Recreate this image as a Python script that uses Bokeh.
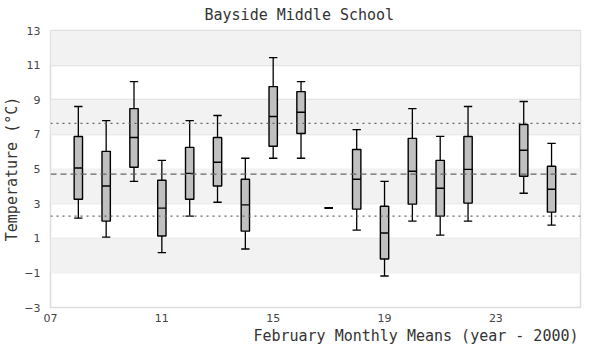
from bokeh.plotting import figure
from bokeh.models import Span, FixedTicker, Title, ColumnDataSource, BoxAnnotation
from bokeh.transform import dodge
from bokeh.embed import file_html
from bokeh.resources import INLINE

# ---- data ----
years  = [8, 9, 10, 11, 12, 13, 14, 15, 16, 17, 18, 19, 20, 21, 22, 24, 25]
lower  = [2.16, 1.07, 4.29, 0.17, 2.28, 3.08, 0.38, 5.62, 5.62, 2.75, 1.47, -1.18, 1.99, 1.18, 1.99, 3.60, 1.76]
q1     = [3.25, 1.99, 5.10, 1.13, 3.25, 4.02, 1.41, 6.31, 7.05, 2.75, 2.68, -0.20, 2.97, 2.28, 3.03, 4.58, 2.51]
median = [5.06, 4.02, 6.82, 2.74, 4.75, 5.39, 2.93, 8.03, 8.28, 2.75, 4.41, 1.30, 4.87, 3.89, 4.98, 6.08, 3.83]
q3     = [6.88, 6.02, 8.49, 4.35, 6.25, 6.82, 4.41, 9.76, 9.47, 2.75, 6.13, 2.85, 6.77, 5.50, 6.88, 7.57, 5.16]
upper  = [8.61, 7.80, 10.05, 5.50, 7.80, 8.09, 5.62, 11.43, 10.05, 2.75, 7.28, 4.29, 8.49, 6.88, 8.61, 8.90, 6.48]

overall_mean = 4.70
band_low = 2.28
band_high = 7.63

y_ticks = [-3, -1, 1, 3, 5, 7, 9, 11, 13]
x_ticks = [7, 11, 15, 19, 23]
x_tick_labels = {7: "07", 11: "11", 15: "15", 19: "19", 23: "23"}
shaded_bands = [(-1, 1), (3, 5), (7, 9), (11, 13)]

title_text = "Bayside Middle School"
x_title = "February Monthly Means (year - 2000)"
y_title = "Temperature (°C)"

MONO = "DejaVu Sans Mono"

src = ColumnDataSource(dict(years=years, lower=lower, q1=q1, median=median, q3=q3, upper=upper))

p = figure(width=584, height=344, x_range=(7, 26.04), y_range=(-3, 13),
           output_backend="svg", toolbar_location=None,
           min_border_left=40, min_border_right=4, min_border_top=30, min_border_bottom=30)

p.background_fill_color = "white"
p.border_fill_color = "white"
p.outline_line_color = "#dddddd"
p.outline_line_width = 1.5

# title
p.title.text = title_text
p.title.text_font = MONO
p.title.text_font_size = "15px"
p.title.text_font_style = "normal"
p.title.text_color = "#333333"
p.title.align = "left"
p.title.vertical_align = "top"
p.title.offset = 154
p.title.standoff = 10

# axes
p.xaxis.ticker = FixedTicker(ticks=x_ticks)
p.xaxis.major_label_overrides = x_tick_labels
p.yaxis.ticker = FixedTicker(ticks=y_ticks)
for ax in (p.xaxis, p.yaxis):
    ax.axis_line_color = None
    ax.major_tick_line_color = None
    ax.minor_tick_line_color = None
    ax.major_tick_out = 0
    ax.major_tick_in = 0
    ax.minor_tick_out = 0
    ax.minor_tick_in = 0
    ax.major_label_text_font = "DejaVu Sans"
    ax.major_label_text_font_size = "11px"
    ax.major_label_text_color = "#444444"
p.yaxis.major_label_standoff = 10
p.xaxis.major_label_standoff = 6
p.yaxis.axis_label = y_title
p.yaxis.axis_label_text_font = MONO
p.yaxis.axis_label_text_font_size = "15px"
p.yaxis.axis_label_text_font_style = "normal"
p.yaxis.axis_label_text_color = "#333333"
p.yaxis.axis_label_standoff = 0

xt = Title(text=x_title, align="right", offset=2, text_font=MONO, text_font_size="15px",
           text_font_style="normal", text_color="#333333", standoff=0)
p.add_layout(xt, "below")

# grid + shaded bands
p.xgrid.grid_line_color = None
p.ygrid.ticker = FixedTicker(ticks=y_ticks)
p.ygrid.grid_line_color = "#e0e0e0"
p.ygrid.grid_line_width = 1.5
for lo, hi in shaded_bands:
    p.add_layout(BoxAnnotation(bottom=lo, top=hi, fill_color="#f2f2f2", fill_alpha=1.0,
                               line_color=None, level="underlay"))

# reference lines
for loc, dash in ((band_high, "2 4"), (overall_mean, "6 4"), (band_low, "2 4")):
    p.add_layout(Span(location=loc, dimension="width", line_color="#666666",
                      line_width=1.3, line_dash=dash))

BW = 0.30
# whiskers
p.segment(x0="years", y0="q3", x1="years", y1="upper", source=src, line_color="black", line_width=1.3)
p.segment(x0="years", y0="q1", x1="years", y1="lower", source=src, line_color="black", line_width=1.3)
p.segment(x0=dodge("years", -BW / 2), y0="upper", x1=dodge("years", BW / 2), y1="upper",
          source=src, line_color="black", line_width=1.3)
p.segment(x0=dodge("years", -BW / 2), y0="lower", x1=dodge("years", BW / 2), y1="lower",
          source=src, line_color="black", line_width=1.3)
# boxes
p.vbar(x="years", width=BW, bottom="q1", top="q3", source=src,
       fill_color="#c0c0c0", line_color="black", line_width=1.4)
p.segment(x0=dodge("years", -BW / 2), y0="median", x1=dodge("years", BW / 2), y1="median",
          source=src, line_color="black", line_width=1.4)

open("out.html", "w").write(file_html(p, INLINE))
